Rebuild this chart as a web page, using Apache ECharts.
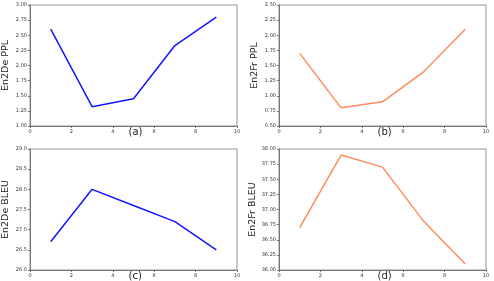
<!DOCTYPE html>
<html><head><meta charset="utf-8">
<script src="https://cdn.jsdelivr.net/npm/echarts@6/dist/echarts.min.js"></script>
<style>html,body{margin:0;padding:0;background:#fff}#c{width:494px;height:281px}</style>
</head><body><div id="c"></div>
<script>
var xValues = [1, 3, 5, 7, 9];
var en2dePPL = [2.60, 1.32, 1.45, 2.33, 2.80];
var en2frPPL = [1.70, 0.80, 0.90, 1.40, 2.10];
var en2deBLEU = [26.7, 28.0, 27.6, 27.2, 26.5];
var en2frBLEU = [36.7, 37.9, 37.7, 36.8, 36.1];
var panelNames = ['En2De PPL', 'En2Fr PPL', 'En2De BLEU', 'En2Fr BLEU'];
var panelLabels = ['(a)', '(b)', '(c)', '(d)'];

var blue = '#1414ff', orange = '#ff8c5e';
var grids = [
  {left: 30, top: 5, width: 207, height: 121},
  {left: 279, top: 5, width: 207, height: 121},
  {left: 30, top: 149, width: 207, height: 121},
  {left: 279, top: 149, width: 207, height: 121}
];
var yCfg = [
  {min: 1, max: 3, interval: 0.25, dec: 2},
  {min: 0.5, max: 2.5, interval: 0.25, dec: 2},
  {min: 26, max: 29, interval: 0.5, dec: 1},
  {min: 36, max: 38, interval: 0.25, dec: 2}
];
var seriesVals = [en2dePPL, en2frPPL, en2deBLEU, en2frBLEU];
var colors = [blue, orange, blue, orange];

var axisLineStyle = {show: true, lineStyle: {color: '#777', width: 1}};
var tickStyle = {show: true, length: 2, lineStyle: {color: '#555', width: 0.8}};
var labelStyle = {fontSize: 5, color: '#333', fontFamily: 'DejaVu Sans', margin: 3};

var option = {
  animation: false,
  grid: grids.map(function(g){ return Object.assign({show: true, borderColor: '#b8b8b8', borderWidth: 1.5, backgroundColor: '#fff'}, g); }),
  xAxis: grids.map(function(g, i){ return {
    type: 'value', gridIndex: i, min: 0, max: 10, interval: 2,
    axisLine: axisLineStyle, axisTick: tickStyle, axisLabel: labelStyle, splitLine: {show: false}
  };}),
  yAxis: grids.map(function(g, i){ var c = yCfg[i]; return {
    type: 'value', gridIndex: i, min: c.min, max: c.max, interval: c.interval,
    name: panelNames[i], nameLocation: 'middle', nameGap: 19,
    nameTextStyle: {fontSize: 9.5, color: '#222', fontFamily: 'DejaVu Sans'},
    axisLine: axisLineStyle, axisTick: tickStyle,
    axisLabel: Object.assign({}, labelStyle, {formatter: function(v){ return v.toFixed(c.dec); }}),
    splitLine: {show: false}
  };}),
  series: seriesVals.map(function(vals, i){ return {
    type: 'line', xAxisIndex: i, yAxisIndex: i, showSymbol: false,
    lineStyle: {color: colors[i], width: 1.5}, itemStyle: {color: colors[i]},
    data: xValues.map(function(x, k){ return [x, vals[k]]; })
  };}),
  graphic: panelLabels.map(function(t, i){
    var g = grids[i];
    return {type: 'text', left: g.left + g.width / 2 - 5, top: g.top + g.height + 1,
      style: {text: t, fontSize: 10, fill: '#222', fontFamily: 'DejaVu Sans'}};
  })
};
var chart = echarts.init(document.getElementById('c'), null, {renderer: 'canvas'});
chart.setOption(option);
</script></body></html>
